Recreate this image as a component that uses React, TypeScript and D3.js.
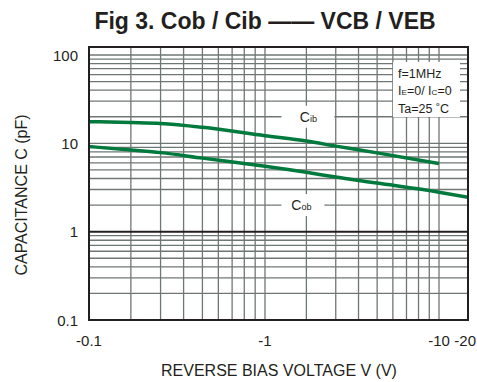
import * as React from "react";
import * as d3 from "d3";

// reverse bias voltage magnitudes (V) and capacitance readings (pF)
const cibVolts = [0.1, 0.2, 0.3, 0.5, 1, 2, 3, 5, 10];
const cibValues = [17.6, 17.2, 16.8, 15.2, 12.2, 10.6, 9.3, 7.8, 5.9];
const cobVolts = [0.1, 0.2, 0.3, 0.5, 1, 2, 3, 5, 10, 20];
const cobValues = [9.2, 8.4, 7.85, 6.8, 5.5, 4.7, 4.15, 3.55, 2.8, 2.45];

const xTickValues = [0.1, 1, 10, 20];
const xTickLabels = ["-0.1", "-1", "-10", "-20"];
const yTickValues = [0.1, 1, 10, 100];
const yTickLabels = ["0.1", "1", "10", "100"];
const legendLines = ["f=1MHz", "IE=0/ Ic=0", "Ta=25 ˚C"];

const W = 477;
const H = 382;
const left = 89;
const right = 468;
const top = 47;
const bottom = 320;

const FONT = "'Liberation Sans', Arial, sans-serif";
const INK = "#231f20";
const GRID = "#6f7775";
const GREEN = "#00793d";

// the datasheet grid is not a clean log: each decade is squeezed like a symlog
const decadeFrac = d3.scaleSymlog().constant(1).domain([1, 10]).range([0, 1]);
const decadePos = (v: number) => {
  const e = Math.floor(Math.log10(v) + 1e-9);
  return e + 1 + decadeFrac(v / Math.pow(10, e));
};
const xLin = d3
  .scaleLinear()
  .domain([0, 1, 2, decadePos(20)])
  .range([left, 265, 439, right]);
const x = (v: number) => xLin(decadePos(v));

const y = d3.scaleLog().domain([0.1, 100]).range([bottom, 55]);

const xGrid = [
  ...d3.range(2, 10).map((d) => d / 10),
  1,
  ...d3.range(2, 10),
  10,
];
const yGrid = [
  ...d3.range(2, 10).map((d) => d / 10),
  ...d3.range(1, 10),
  ...d3.range(1, 10).map((d) => d * 10),
  100,
];

const line = d3
  .line<[number, number]>()
  .x((d) => x(d[0]))
  .y((d) => y(d[1]))
  .curve(d3.curveMonotoneX);

const Sub = ({ main, sub, size }: { main: string; sub: string; size: number }) => (
  <>
    {main}
    <tspan fontSize={size * 0.65}>{sub}</tspan>
  </>
);

export default function App() {
  const cib = cibVolts.map((v, i) => [v, cibValues[i]] as [number, number]);
  const cob = cobVolts.map((v, i) => [v, cobValues[i]] as [number, number]);

  const cibX = x(2);
  const cibY = y(20);
  const cobY = y(2);
  const lastTick = xTickValues.length - 1;

  return (
    <svg
      width={W}
      height={H}
      style={{ position: "absolute", left: 0, top: 0, background: "#fff" }}
      fontFamily={FONT}
    >
      <text x={265} y={29} textAnchor="middle" fontSize={23} fontWeight="bold" fill={INK}>
        Fig 3. Cob / Cib —— VCB / VEB
      </text>

      <defs>
        <clipPath id="plot">
          <rect x={left} y={top} width={right - left} height={bottom - top} />
        </clipPath>
      </defs>

      {/* grid */}
      <g stroke={GRID} strokeWidth={1.3}>
        {xGrid.map((v) => (
          <line key={"x" + v} x1={x(v)} x2={x(v)} y1={top} y2={bottom} />
        ))}
        {yGrid.map((v) => (
          <line
            key={"y" + v}
            x1={left}
            x2={right}
            y1={y(v)}
            y2={y(v)}
            stroke={v === 1 ? INK : GRID}
            strokeWidth={v === 1 ? 2 : 1.3}
          />
        ))}
      </g>

      {/* label boxes knock out the grid */}
      <g fill="#fff">
        <rect x={cibX - 25} y={cibY - 11} width={53} height={22} />
        <rect x={cibX - 25} y={cobY - 11} width={43} height={22} />
        <rect x={393} y={62} width={67} height={55} />
      </g>

      <g clipPath="url(#plot)" fill="none" stroke={GREEN} strokeWidth={3.5}>
        <path d={line(cib) ?? ""} />
        <path d={line(cob) ?? ""} />
      </g>

      <rect
        x={left}
        y={top}
        width={right - left}
        height={bottom - top}
        fill="none"
        stroke={INK}
        strokeWidth={2}
      />

      <g fontSize={14} fill={INK}>
        <text x={cibX + 2} y={cibY + 5} textAnchor="middle">
          <Sub main="C" sub="ib" size={14} />
        </text>
        <text x={cibX - 5} y={cobY + 5} textAnchor="middle">
          <Sub main="C" sub="ob" size={14} />
        </text>
      </g>

      <g fontSize={12.5} fill={INK}>
        <text x={398} y={78}>{legendLines[0]}</text>
        <text x={398} y={95}>
          <Sub main="I" sub="E" size={12.5} />
          {"=0/ "}
          <Sub main="I" sub="C" size={12.5} />
          {"=0"}
        </text>
        <text x={398} y={113}>{legendLines[2]}</text>
      </g>

      <g fontSize={15} fill={INK}>
        {yTickValues.map((v, i) => (
          <text key={v} x={78} y={y(v) + 5.5} textAnchor="end">
            {yTickLabels[i]}
          </text>
        ))}
        {xTickValues.map((v, i) =>
          i === lastTick ? (
            <text key={v} x={W - 1} y={346} textAnchor="end">
              {xTickLabels[i]}
            </text>
          ) : (
            <text key={v} x={x(v)} y={346} textAnchor="middle">
              {xTickLabels[i]}
            </text>
          )
        )}
      </g>

      <text x={279} y={376} textAnchor="middle" fontSize={16} fill={INK}>
        REVERSE BIAS VOLTAGE V (V)
      </text>
      <text
        transform="translate(27,195) rotate(-90)"
        textAnchor="middle"
        fontSize={16}
        fill={INK}
      >
        CAPACITANCE C (pF)
      </text>
    </svg>
  );
}
